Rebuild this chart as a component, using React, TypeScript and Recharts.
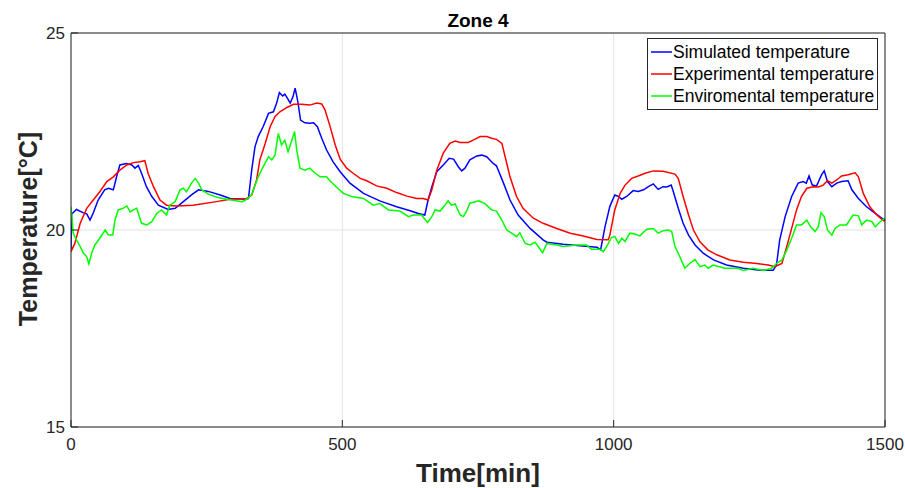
import { LineChart, Line, XAxis, YAxis, CartesianGrid, Legend, Label } from 'recharts';

// values (time in min, temperature in °C)
const simTime = [0, 1, 10, 22, 29, 35, 41, 50, 62, 69, 78, 84, 90, 102, 112, 118, 124, 130, 139, 149, 161, 179, 192, 207, 222, 235, 253, 275, 293, 324, 327, 333, 339, 345, 354, 364, 373, 379, 384, 390, 394, 399, 404, 409, 413, 418, 423, 431, 440, 447, 454, 462, 471, 483, 496, 514, 539, 569, 600, 625, 640, 652, 658, 665, 674, 686, 697, 705, 714, 720, 726, 735, 748, 757, 766, 778, 784, 797, 809, 824, 846, 870, 877, 907, 938, 969, 976, 984, 993, 1002, 1009, 1015, 1024, 1036, 1045, 1055, 1064, 1073, 1082, 1091, 1098, 1106, 1110, 1119, 1128, 1138, 1150, 1165, 1184, 1208, 1239, 1270, 1294, 1300, 1306, 1316, 1328, 1340, 1349, 1355, 1360, 1366, 1374, 1383, 1388, 1394, 1402, 1411, 1420, 1432, 1439, 1451, 1466, 1482, 1497, 1500];
const simTemp = [19.5, 20.4, 20.52, 20.44, 20.41, 20.25, 20.43, 20.76, 21.02, 21.06, 21.02, 21.35, 21.65, 21.69, 21.65, 21.57, 21.64, 21.44, 21.1, 20.85, 20.63, 20.52, 20.55, 20.72, 20.89, 21.02, 20.98, 20.89, 20.8, 20.78, 20.8, 21.52, 22.11, 22.37, 22.62, 22.96, 23.0, 23.22, 23.49, 23.4, 23.45, 23.34, 23.22, 23.38, 23.6, 23.26, 22.79, 22.72, 22.71, 22.72, 22.62, 22.33, 22.03, 21.73, 21.48, 21.19, 20.93, 20.74, 20.59, 20.49, 20.42, 20.38, 20.76, 21.1, 21.48, 21.65, 21.82, 21.8, 21.6, 21.5, 21.57, 21.78, 21.88, 21.9, 21.86, 21.69, 21.63, 21.19, 20.76, 20.38, 20.04, 19.75, 19.69, 19.64, 19.6, 19.56, 19.5, 20.08, 20.6, 20.89, 20.85, 20.78, 20.85, 21.0, 20.98, 21.02, 21.1, 21.17, 21.03, 21.1, 21.09, 21.14, 20.97, 20.55, 20.17, 19.87, 19.62, 19.41, 19.24, 19.11, 19.03, 18.98, 18.98, 19.11, 19.75, 20.34, 20.85, 21.19, 21.23, 21.19, 21.37, 21.14, 21.12, 21.4, 21.5, 21.23, 21.1, 21.19, 21.23, 21.25, 21.02, 20.8, 20.59, 20.42, 20.27, 20.25];

const expTime = [0, 7, 17, 29, 41, 53, 66, 78, 90, 103, 115, 127, 136, 142, 152, 164, 176, 195, 225, 268, 293, 324, 333, 342, 348, 354, 358, 367, 376, 385, 398, 410, 425, 440, 453, 462, 468, 477, 487, 496, 508, 520, 533, 545, 563, 582, 600, 619, 637, 649, 658, 665, 674, 686, 698, 708, 717, 732, 741, 754, 766, 775, 784, 794, 800, 809, 821, 833, 852, 870, 895, 920, 944, 969, 990, 993, 1002, 1012, 1021, 1033, 1045, 1058, 1073, 1091, 1113, 1119, 1128, 1138, 1147, 1159, 1174, 1190, 1214, 1239, 1264, 1285, 1297, 1310, 1319, 1328, 1337, 1346, 1356, 1368, 1377, 1386, 1394, 1402, 1411, 1420, 1432, 1445, 1451, 1460, 1472, 1485, 1497, 1500];
const expTemp = [19.45, 19.66, 20.17, 20.55, 20.76, 20.97, 21.23, 21.35, 21.52, 21.65, 21.71, 21.73, 21.76, 21.44, 21.1, 20.76, 20.63, 20.61, 20.63, 20.72, 20.78, 20.8, 20.89, 21.27, 21.78, 22.03, 22.2, 22.62, 22.88, 23.0, 23.11, 23.19, 23.19, 23.17, 23.22, 23.2, 23.05, 22.65, 22.15, 21.8, 21.57, 21.44, 21.31, 21.25, 21.12, 21.06, 20.95, 20.86, 20.8, 20.8, 20.76, 21.02, 21.52, 21.95, 22.2, 22.26, 22.22, 22.22, 22.28, 22.37, 22.37, 22.33, 22.3, 22.2, 21.86, 21.35, 20.85, 20.55, 20.3, 20.17, 20.04, 19.92, 19.85, 19.76, 19.75, 19.87, 20.51, 20.93, 21.14, 21.31, 21.37, 21.44, 21.5, 21.49, 21.42, 21.31, 20.85, 20.38, 20.0, 19.7, 19.49, 19.37, 19.24, 19.18, 19.15, 19.11, 19.07, 19.15, 19.58, 20.04, 20.51, 20.85, 21.06, 21.1, 21.09, 21.14, 21.25, 21.19, 21.27, 21.37, 21.4, 21.45, 21.35, 20.93, 20.59, 20.38, 20.24, 20.22];

const envTime = [0, 4, 10, 17, 23, 29, 33, 38, 44, 53, 63, 69, 77, 81, 87, 96, 103, 109, 115, 121, 130, 140, 149, 158, 167, 176, 182, 192, 201, 207, 213, 222, 229, 235, 241, 253, 269, 287, 315, 324, 333, 345, 354, 364, 370, 376, 382, 388, 394, 400, 407, 412, 416, 422, 431, 440, 450, 459, 471, 477, 490, 502, 517, 539, 557, 569, 585, 606, 622, 631, 646, 657, 665, 671, 680, 689, 695, 701, 708, 717, 723, 729, 735, 751, 763, 775, 784, 794, 803, 812, 821, 827, 837, 846, 855, 861, 869, 877, 895, 907, 932, 950, 959, 975, 981, 987, 996, 1002, 1009, 1015, 1021, 1030, 1039, 1048, 1061, 1073, 1082, 1091, 1101, 1107, 1113, 1122, 1131, 1140, 1150, 1159, 1168, 1174, 1183, 1205, 1229, 1239, 1257, 1276, 1291, 1300, 1310, 1319, 1328, 1337, 1346, 1356, 1363, 1371, 1377, 1382, 1388, 1394, 1402, 1408, 1417, 1429, 1441, 1451, 1457, 1466, 1476, 1482, 1491, 1500];
const envTemp = [20.6, 19.92, 19.75, 19.58, 19.41, 19.32, 19.14, 19.41, 19.62, 19.79, 20.0, 19.87, 19.87, 20.25, 20.51, 20.55, 20.61, 20.46, 20.51, 20.55, 20.17, 20.13, 20.21, 20.42, 20.51, 20.38, 20.63, 20.72, 21.02, 21.06, 20.97, 21.19, 21.31, 21.19, 21.02, 20.91, 20.83, 20.78, 20.72, 20.78, 20.9, 21.35, 21.6, 21.86, 21.78, 21.9, 22.45, 22.16, 22.28, 21.99, 22.28, 22.5, 22.03, 21.57, 21.52, 21.57, 21.44, 21.35, 21.35, 21.25, 21.08, 20.93, 20.85, 20.8, 20.63, 20.67, 20.51, 20.48, 20.34, 20.38, 20.38, 20.19, 20.34, 20.51, 20.48, 20.63, 20.74, 20.63, 20.66, 20.38, 20.34, 20.48, 20.68, 20.74, 20.67, 20.51, 20.48, 20.25, 20.0, 19.92, 19.83, 19.93, 19.66, 19.62, 19.69, 19.58, 19.42, 19.66, 19.62, 19.58, 19.62, 19.62, 19.51, 19.51, 19.45, 19.58, 19.81, 19.84, 19.66, 19.79, 19.71, 19.92, 19.9, 19.85, 20.02, 20.04, 19.92, 19.98, 20.0, 19.96, 19.58, 19.32, 19.03, 19.15, 19.25, 19.07, 19.11, 19.03, 19.11, 19.03, 19.03, 18.97, 19.03, 18.97, 19.03, 19.15, 19.24, 19.49, 19.79, 20.13, 20.13, 20.25, 20.08, 19.96, 20.08, 20.44, 20.34, 20.0, 19.87, 20.04, 20.13, 20.13, 20.38, 20.36, 20.13, 20.25, 20.21, 20.08, 20.21, 20.3];

const xTicks = [0, 500, 1000, 1500];
const yTicks = [15, 20, 25];

const toPoints = (ts: number[], vs: number[]) => ts.map((t, i) => ({ t, v: vs[i] }));

const series = [
  { name: 'Simulated temperature', color: '#0000ff', data: toPoints(simTime, simTemp) },
  { name: 'Experimental temperature', color: '#ff0000', data: toPoints(expTime, expTemp) },
  { name: 'Enviromental temperature', color: '#00ff00', data: toPoints(envTime, envTemp) },
];

const FONT = '"Liberation Sans", Arial, Helvetica, sans-serif';
const AXIS = '#262626';

function LegendBox() {
  return (
    <div
      style={{
        border: `1px solid ${AXIS}`,
        background: '#fff',
        padding: '2px 3px 2px 3px',
        fontFamily: FONT,
        fontSize: 17.5,
        color: '#000',
      }}
    >
      {series.map((s) => (
        <div key={s.name} style={{ display: 'flex', alignItems: 'center', height: 22 }}>
          <svg width={21} height={4} style={{ marginRight: 1, flex: 'none' }}>
            <line x1={0} y1={2} x2={21} y2={2} stroke={s.color} strokeWidth={1.5} />
          </svg>
          <span style={{ whiteSpace: 'nowrap' }}>{s.name}</span>
        </div>
      ))}
    </div>
  );
}

export default function App() {
  const tickStyle = { fill: AXIS, fontSize: 17, fontFamily: FONT };
  return (
    <div style={{ position: 'absolute', left: 0, top: 0, width: 905, height: 488, background: '#fff' }}>
      <LineChart width={905} height={488} margin={{ top: 32, right: 19, bottom: 31, left: 11 }}>
        <CartesianGrid stroke="#e3e3e3" strokeWidth={1} />
        <XAxis
          type="number"
          dataKey="t"
          domain={[0, 1500]}
          ticks={xTicks}
          allowDataOverflow
          height={30}
          tickSize={-7}
          tickMargin={18}
          tick={tickStyle}
          axisLine={{ stroke: AXIS }}
          tickLine={{ stroke: AXIS }}
        >
          <Label
            content={({ viewBox }: any) => (
              <text
                x={viewBox.x + viewBox.width / 2}
                y={viewBox.y + 55}
                textAnchor="middle"
                fontFamily={FONT}
                fontWeight="bold"
                fontSize={26}
                fill={AXIS}
              >
                Time[min]
              </text>
            )}
          />
        </XAxis>
        <XAxis
          xAxisId="top"
          orientation="top"
          type="number"
          domain={[0, 1500]}
          ticks={xTicks}
          allowDataOverflow
          height={1}
          tickSize={-7}
          tick={false}
          axisLine={{ stroke: AXIS }}
          tickLine={{ stroke: AXIS }}
        >
          <Label
            content={({ viewBox }: any) => (
              <text
                x={viewBox.x + viewBox.width / 2}
                y={viewBox.y - 5}
                textAnchor="middle"
                fontFamily={FONT}
                fontWeight="bold"
                fontSize={19}
                fill="#000"
              >
                Zone 4
              </text>
            )}
          />
        </XAxis>
        <YAxis
          type="number"
          domain={[15, 25]}
          ticks={yTicks}
          allowDataOverflow
          width={60}
          tickSize={-7}
          tickMargin={13}
          tick={tickStyle}
          axisLine={{ stroke: AXIS }}
          tickLine={{ stroke: AXIS }}
        >
          <Label
            content={({ viewBox }: any) => {
              const cx = viewBox.x + 26;
              const cy = viewBox.y + viewBox.height / 2 - 1;
              return (
                <text
                  x={cx}
                  y={cy}
                  transform={`rotate(-90, ${cx}, ${cy})`}
                  textAnchor="middle"
                  fontFamily={FONT}
                  fontWeight="bold"
                  fontSize={25}
                  fill={AXIS}
                >
                  Temperature[°C]
                </text>
              );
            }}
          />
        </YAxis>
        <YAxis
          yAxisId="right"
          orientation="right"
          type="number"
          domain={[15, 25]}
          ticks={yTicks}
          allowDataOverflow
          width={1}
          tickSize={-7}
          tick={false}
          axisLine={{ stroke: AXIS }}
          tickLine={{ stroke: AXIS }}
        />
        <Legend
          layout="horizontal"
          verticalAlign="middle"
          align="center"
          content={() => <LegendBox />}
          wrapperStyle={{ left: 647, top: 38, width: 'auto', height: 'auto' }}
        />
        {series.map((s) => (
          <Line
            key={s.name}
            data={s.data}
            dataKey="v"
            name={s.name}
            type="linear"
            stroke={s.color}
            strokeWidth={1.5}
            dot={false}
            activeDot={false}
            isAnimationActive={false}
          />
        ))}
      </LineChart>
    </div>
  );
}
